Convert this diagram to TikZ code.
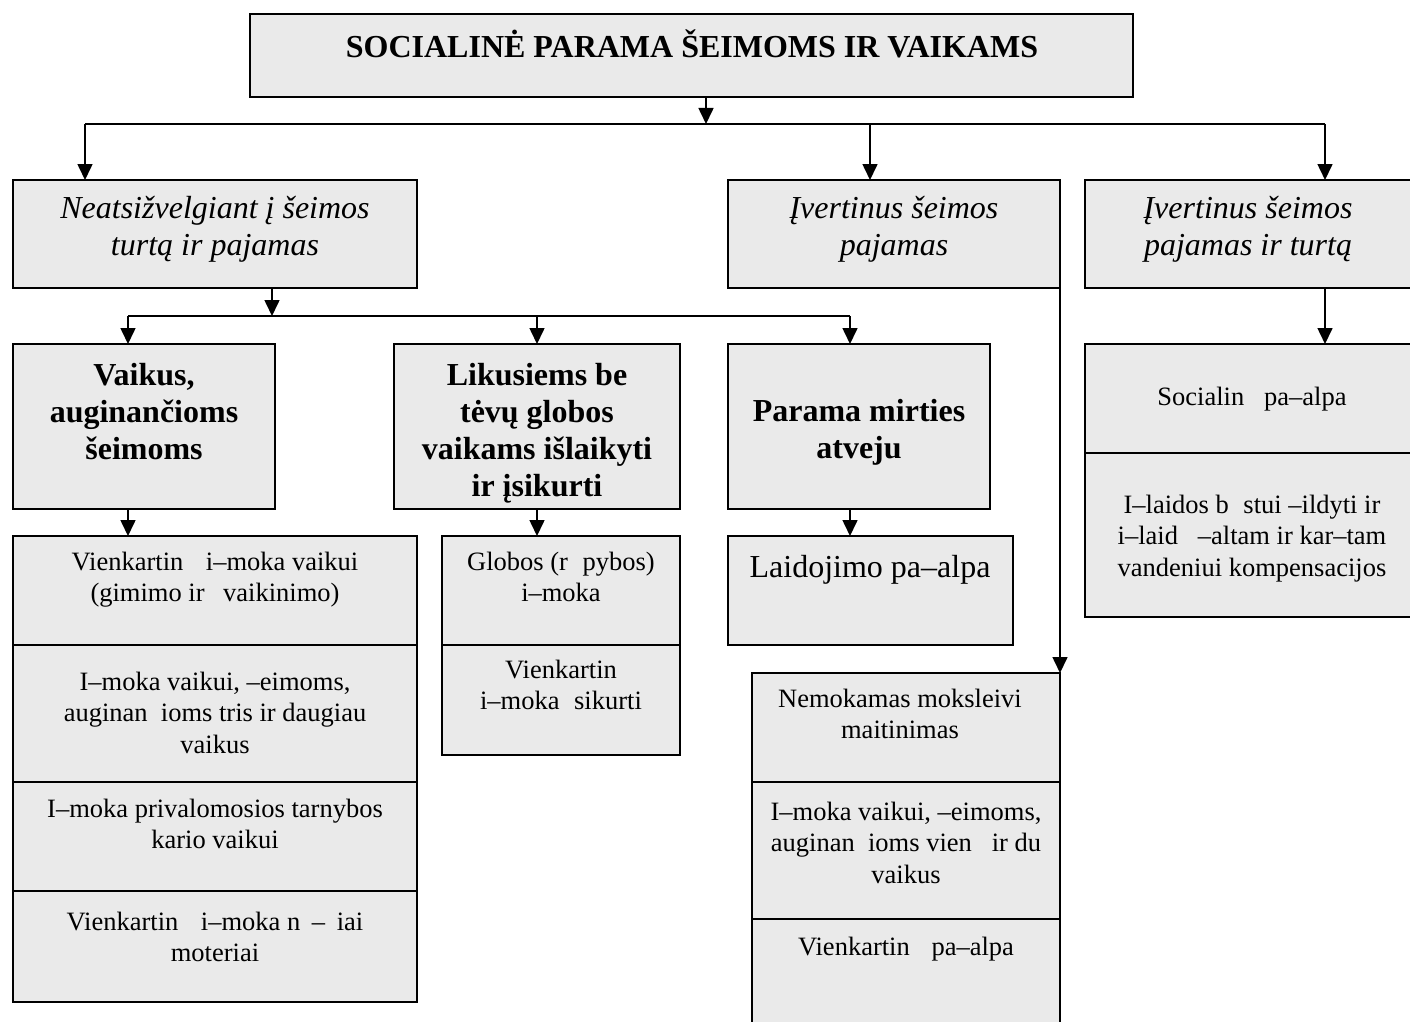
\documentclass[tikz,border=0pt]{standalone}
\usepackage{fontspec}
\setmainfont{Liberation Serif}
\usetikzlibrary{arrows.meta}
\definecolor{boxfill}{RGB}{234,234,234}
\newcommand\fs{\rule{0pt}{1em}}
\begin{document}
\begin{tikzpicture}[x=1pt,y=-1pt,
  cell/.style={draw=black, line width=1.8pt, fill=boxfill, anchor=north west, inner sep=0pt, outer sep=0pt},
  ln/.style={line width=1.6pt},
  arr/.style={line width=1.6pt, -{Triangle[length=16pt,width=15pt]}},
  reg/.style={font=\fontsize{26.5}{31.5}\selectfont, anchor=north, inner sep=0pt, align=center, yshift=26.5pt},
  big/.style={font=\fontsize{32}{37}\selectfont, anchor=north, inner sep=0pt, align=center, yshift=32pt},
  ita/.style={font=\fontsize{32}{37}\selectfont\itshape, anchor=north, inner sep=0pt, align=center, yshift=32pt},
  bol/.style={font=\fontsize{32}{37}\selectfont\bfseries, anchor=north, inner sep=0pt, align=center, yshift=32pt}]
\useasboundingbox (0,0) rectangle (1410,1022);
% boxes
\node[cell, minimum width=883pt, minimum height=83pt] (title) at (250,14) {};
\node[cell, minimum width=404pt, minimum height=108pt] (nA) at (13,180) {};
\node[cell, minimum width=332pt, minimum height=108pt] (nB) at (728,180) {};
\node[cell, minimum width=340pt, minimum height=108pt] (nC) at (1085,180) {};
\node[cell, minimum width=262pt, minimum height=165pt] (nD) at (13,344) {};
\node[cell, minimum width=286pt, minimum height=165pt] (nE) at (394,344) {};
\node[cell, minimum width=262pt, minimum height=165pt] (nF) at (728,344) {};
\node[cell, minimum width=404pt, minimum height=109pt] (g1) at (13,536) {};
\node[cell, minimum width=404pt, minimum height=137pt] (g2) at (13,645) {};
\node[cell, minimum width=404pt, minimum height=109pt] (g3) at (13,782) {};
\node[cell, minimum width=404pt, minimum height=111pt] (g4) at (13,891) {};
\node[cell, minimum width=238pt, minimum height=109pt] (h1) at (442,536) {};
\node[cell, minimum width=238pt, minimum height=110pt] (h2) at (442,645) {};
\node[cell, minimum width=285pt, minimum height=109pt] (iL) at (728,536) {};
\node[cell, minimum width=308pt, minimum height=109pt] (j1) at (752,673) {};
\node[cell, minimum width=308pt, minimum height=137pt] (j2) at (752,782) {};
\node[cell, minimum width=308pt, minimum height=130pt] (j3) at (752,919) {};
\node[cell, minimum width=340pt, minimum height=109pt] (k1) at (1085,344) {};
\node[cell, minimum width=340pt, minimum height=164pt] (k2) at (1085,453) {};
% connectors
\coordinate (b1) at (706,124);
\coordinate (b1L) at (85,124);
\coordinate (b1M) at (870,124);
\coordinate (b1R) at (1325,124);
\draw[ln] (b1L) -- (b1R);
\draw[arr] (b1 |- title.south) -- (b1);
\draw[arr] (b1L) -- (b1L |- nA.north);
\draw[arr] (b1M) -- (b1M |- nB.north);
\draw[arr] (b1R) -- (b1R |- nC.north);
\coordinate (b2) at (272,316);
\coordinate (b2L) at (128,316);
\coordinate (b2M) at (537,316);
\coordinate (b2R) at (850,316);
\draw[ln] (b2L) -- (b2R);
\draw[arr] (b2 |- nA.south) -- (b2);
\draw[arr] (b2L) -- (b2L |- nD.north);
\draw[arr] (b2M) -- (b2M |- nE.north);
\draw[arr] (b2R) -- (b2R |- nF.north);
\draw[arr] (b2L |- nD.south) -- (b2L |- g1.north);
\draw[arr] (b2M |- nE.south) -- (b2M |- h1.north);
\draw[arr] (b2R |- nF.south) -- (b2R |- iL.north);
\draw[arr] (nB.south east) -- (j1.north east);
\draw[arr] (b1R |- nC.south) -- (b1R |- k1.north);
% texts
\node[bol] (tT) at (692,57) {\fs SOCIALINĖ PARAMA ŠEIMOMS IR VAIKAMS};
\node[ita] (tA) at (215,218) {\fs Neatsižvelgiant į šeimos\\turtą ir pajamas};
\node[ita] (tB) at (894,218) {\fs Įvertinus šeimos\\pajamas};
\node[ita] (tC) at (1248,218) {\fs Įvertinus šeimos\\pajamas ir turtą};
\node[bol] (tD) at (144,385) {\fs Vaikus,\\auginančioms\\šeimoms};
\node[bol] (tE) at (537,385) {\fs Likusiems be\\tėvų globos\\vaikams išlaikyti\\ir įsikurti};
\node[bol] (tF) at (859,421) {\fs Parama mirties\\atveju};
\node[reg] (tG1) at (215,570) {\fs Vienkartin\hspace{0.85em}i–moka vaikui\\(gimimo ir\hspace{0.7em}vaikinimo)};
\node[reg] (tG2) at (215,690) {\fs I–moka vaikui, –eimoms,\\auginan\hspace{0.5em}ioms tris ir daugiau\\vaikus};
\node[reg] (tG3) at (215,817) {\fs I–moka privalomosios tarnybos\\kario vaikui};
\node[reg] (tG4) at (215,930) {\fs Vienkartin\hspace{0.85em}i–moka n\hspace{0.44em}–\hspace{0.44em}iai\\moteriai};
\node[reg] (tH1) at (561,570) {\fs Globos (r\hspace{0.55em}pybos)\\i–moka};
\node[reg] (tH2) at (561,678) {\fs Vienkartin\\i–moka\hspace{0.55em}sikurti};
\node[big] (tI) at (870,577) {\fs Laidojimo pa–alpa};
\node[reg] (tJ1) at (900,707) {\fs Nemokamas moksleivi\\maitinimas};
\node[reg] (tJ2) at (906,820) {\fs I–moka vaikui, –eimoms,\\auginan\hspace{0.5em}ioms vien\hspace{0.75em}ir du\\vaikus};
\node[reg] (tJ3) at (906,955) {\fs Vienkartin\hspace{0.82em}pa–alpa};
\node[reg] (tK1) at (1252,405) {\fs Socialin\hspace{0.75em}pa–alpa};
\node[reg] (tK2) at (1252,513) {\fs I–laidos b\hspace{0.55em}stui –ildyti ir\\i–laid\hspace{0.75em}–altam ir kar–tam\\vandeniui kompensacijos};
\end{tikzpicture}
\end{document}
